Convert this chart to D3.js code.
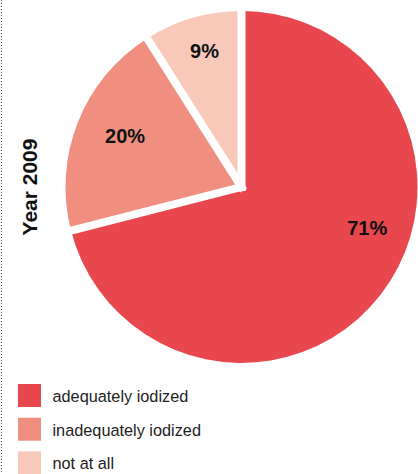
<!DOCTYPE html>
<html><head><meta charset="utf-8">
<script src="https://cdn.jsdelivr.net/npm/d3@7"></script>
<style>body{margin:0;background:#fff}svg{display:block}</style>
</head><body><svg id="chart" width="418" height="474"></svg>
<script>
// ---- data ----
const categories = ["adequately iodized", "inadequately iodized", "not at all"];
const values = [71, 20, 9];
const valueLabels = ["71%", "20%", "9%"];
const colors = ["#e8474e", "#f08f7f", "#f8c9b9"];
const title = "Year 2009";

// ---- layout ----
const W = 418, H = 474;
const cx = 241.5, cy = 187, R = 176;
const labelRadius = [132, 127, 141];
const labelAngleShiftDeg = [-20, 2, 1];

const svg = d3.select("#chart");

// dotted left rule
svg.append("line")
  .attr("x1", 1.5).attr("x2", 1.5).attr("y1", 0).attr("y2", H)
  .attr("stroke", "#444").attr("stroke-width", 1).attr("stroke-dasharray", "1,2");

const pie = d3.pie().sort(null).value(d => d)(values);
const arc = d3.arc().innerRadius(0).outerRadius(R);
const g = svg.append("g").attr("transform", `translate(${cx},${cy})`);

g.selectAll("path.slice").data(pie).join("path")
  .attr("class", "slice")
  .attr("d", arc)
  .attr("fill", (d, i) => colors[i]);

// white separators along slice boundaries
g.selectAll("line.sep").data(pie.map(d => d.startAngle)).join("line")
  .attr("class", "sep")
  .attr("x1", 0).attr("y1", 0)
  .attr("x2", a => Math.sin(a) * (R + 12))
  .attr("y2", a => -Math.cos(a) * (R + 12))
  .attr("stroke", "#fff").attr("stroke-width", 8).attr("stroke-linecap", "square");

// value labels
g.selectAll("text.val").data(pie).join("text")
  .attr("class", "val")
  .attr("x", (d, i) => {
    const a = (d.startAngle + d.endAngle) / 2 + labelAngleShiftDeg[i] * Math.PI / 180;
    return Math.sin(a) * labelRadius[i];
  })
  .attr("y", (d, i) => {
    const a = (d.startAngle + d.endAngle) / 2 + labelAngleShiftDeg[i] * Math.PI / 180;
    return -Math.cos(a) * labelRadius[i];
  })
  .attr("dy", "0.36em")
  .attr("text-anchor", "middle")
  .attr("font-family", "'Liberation Sans', Arial, sans-serif")
  .attr("font-weight", "bold")
  .attr("font-size", 20)
  .attr("fill", "#111")
  .text((d, i) => valueLabels[i]);

// rotated title
svg.append("text")
  .attr("transform", `translate(37,${cy}) rotate(-90)`)
  .attr("text-anchor", "middle")
  .attr("font-family", "'Liberation Sans', Arial, sans-serif")
  .attr("font-weight", "bold")
  .attr("font-size", 21)
  .attr("fill", "#111")
  .text(title);

// legend
const leg = svg.append("g");
const legItems = leg.selectAll("g").data(categories).join("g")
  .attr("transform", (d, i) => `translate(18,${384 + i * 33.7})`);
legItems.append("rect")
  .attr("width", 23).attr("height", 23)
  .attr("fill", (d, i) => colors[i]);
legItems.append("text")
  .attr("x", 34.5).attr("y", 18)
  .attr("font-family", "'Liberation Sans', Arial, sans-serif")
  .attr("font-size", 16.3)
  .attr("fill", "#222")
  .text(d => d);
</script>
</body></html>
